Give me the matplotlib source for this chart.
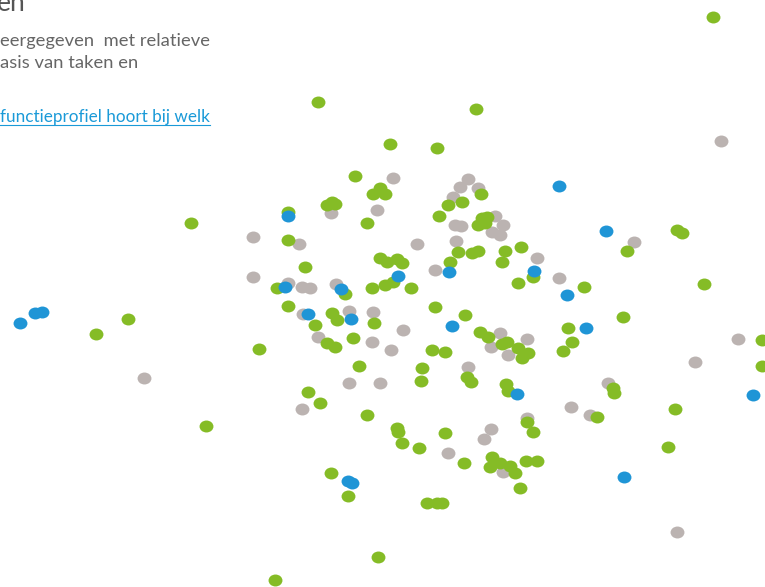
import matplotlib
matplotlib.use('Agg')
import matplotlib.pyplot as plt
from matplotlib.path import Path
from matplotlib.transforms import Affine2D
from matplotlib.lines import Line2D

# Positions of the profiles in the map (screen units, y grows downwards)
green_x = [713, 318, 476, 390, 437, 355, 481, 380, 373, 385, 332, 327, 335, 367, 288, 448, 462, 439,
           482, 485, 478, 487, 288, 458, 472, 478, 505, 502, 305, 380, 387, 397, 402, 450, 277, 345,
           372, 385, 393, 411, 288, 315, 332, 337, 374, 353, 327, 335, 435, 465, 432, 445, 480, 488,
           502, 507, 518, 522, 528, 259, 359, 422, 421, 467, 471, 506, 508, 308, 320, 367, 397, 398,
           402, 419, 445, 464, 492, 490, 500, 510, 515, 526, 537, 520, 331, 348, 427, 437, 442, 378,
           275, 191, 96, 128, 206, 568, 572, 563, 613, 614, 623, 584, 704, 762, 762, 675, 668, 627,
           677, 682, 521, 533, 518, 527, 533, 597]
green_y = [17, 102, 109, 144, 148, 176, 194, 188, 194, 194, 202, 205, 204, 223, 212, 205, 202, 216,
           218, 223, 225, 217, 240, 252, 253, 251, 251, 262, 267, 258, 262, 259, 263, 262, 288, 294,
           288, 285, 282, 288, 306, 325, 313, 320, 323, 338, 343, 347, 307, 315, 350, 352, 332, 337,
           344, 342, 348, 358, 353, 349, 366, 368, 381, 377, 382, 384, 391, 392, 403, 415, 428, 432,
           443, 448, 433, 463, 457, 467, 463, 466, 473, 461, 461, 488, 473, 496, 503, 503, 503, 557,
           580, 223, 334, 319, 426, 328, 342, 351, 388, 393, 317, 287, 284, 340, 366, 409, 447, 251,
           230, 233, 247, 277, 283, 422, 432, 417]

grey_x = [721, 393, 468, 460, 478, 331, 377, 453, 455, 461, 495, 503, 500, 492, 253, 299, 417, 456,
          435, 253, 288, 302, 310, 336, 303, 349, 373, 318, 372, 391, 403, 500, 491, 508, 468, 349,
          380, 302, 491, 484, 448, 503, 144, 634, 537, 559, 527, 738, 695, 608, 571, 590, 527, 677]
grey_y = [141, 178, 179, 187, 188, 213, 210, 197, 225, 226, 216, 225, 235, 232, 237, 244, 244, 241,
          270, 277, 283, 287, 288, 284, 314, 311, 312, 337, 342, 350, 330, 333, 347, 355, 367, 383,
          383, 409, 429, 439, 453, 472, 378, 242, 258, 278, 339, 339, 362, 383, 407, 415, 418, 532]

blue_x = [559, 288, 398, 449, 285, 341, 308, 351, 452, 517, 348, 352, 20, 35, 42, 606, 534, 567,
          586, 753, 624]
blue_y = [186, 216, 276, 272, 287, 289, 314, 319, 326, 394, 481, 483, 323, 313, 312, 231, 271, 295,
          328, 395, 477]

title_tail = 'en'
intro_lines = ['eergegeven  met relatieve', 'asis van taken en']
link_text = 'functieprofiel hoort bij welk'

W, H = 765, 587
fig = plt.figure(figsize=(W / 100, H / 100), dpi=100)
ax = fig.add_axes([0, 0, 1, 1])
ax.set_xlim(0, W)
ax.set_ylim(H, 0)
ax.axis('off')

# slightly flattened dots
ellipse = Path.unit_circle().transformed(Affine2D().scale(1.0, 0.86))
size = 100
ax.scatter(grey_x, grey_y, s=size, marker=ellipse, color='#bbb3b1', linewidths=0)
ax.scatter(green_x, green_y, s=size, marker=ellipse, color='#85bc26', linewidths=0)
ax.scatter(blue_x, blue_y, s=size, marker=ellipse, color='#1f95d6', linewidths=0)

font = ['Lato', 'DejaVu Sans']
fig.text(26 / W, 1 - 11 / H, title_tail, ha='right', va='baseline', fontsize=19,
         color='#555555', family=font)
fig.text(0, 1 - 46 / H, intro_lines[0], ha='left', va='baseline', fontsize=13.2,
         color='#666666', family=font)
fig.text(0, 1 - 68 / H, intro_lines[1], ha='left', va='baseline', fontsize=13.2,
         color='#666666', family=font)
link = fig.text(0, 1 - 122 / H, link_text, ha='left', va='baseline', fontsize=12.3,
                color='#1a9ad8', family=font)

fig.canvas.draw()
bb = link.get_window_extent(fig.canvas.get_renderer())
fig.add_artist(Line2D([0, bb.x1 / W], [1 - 125 / H, 1 - 125 / H], color='#1a9ad8', lw=0.8))

fig.savefig('out.png', dpi=100)
